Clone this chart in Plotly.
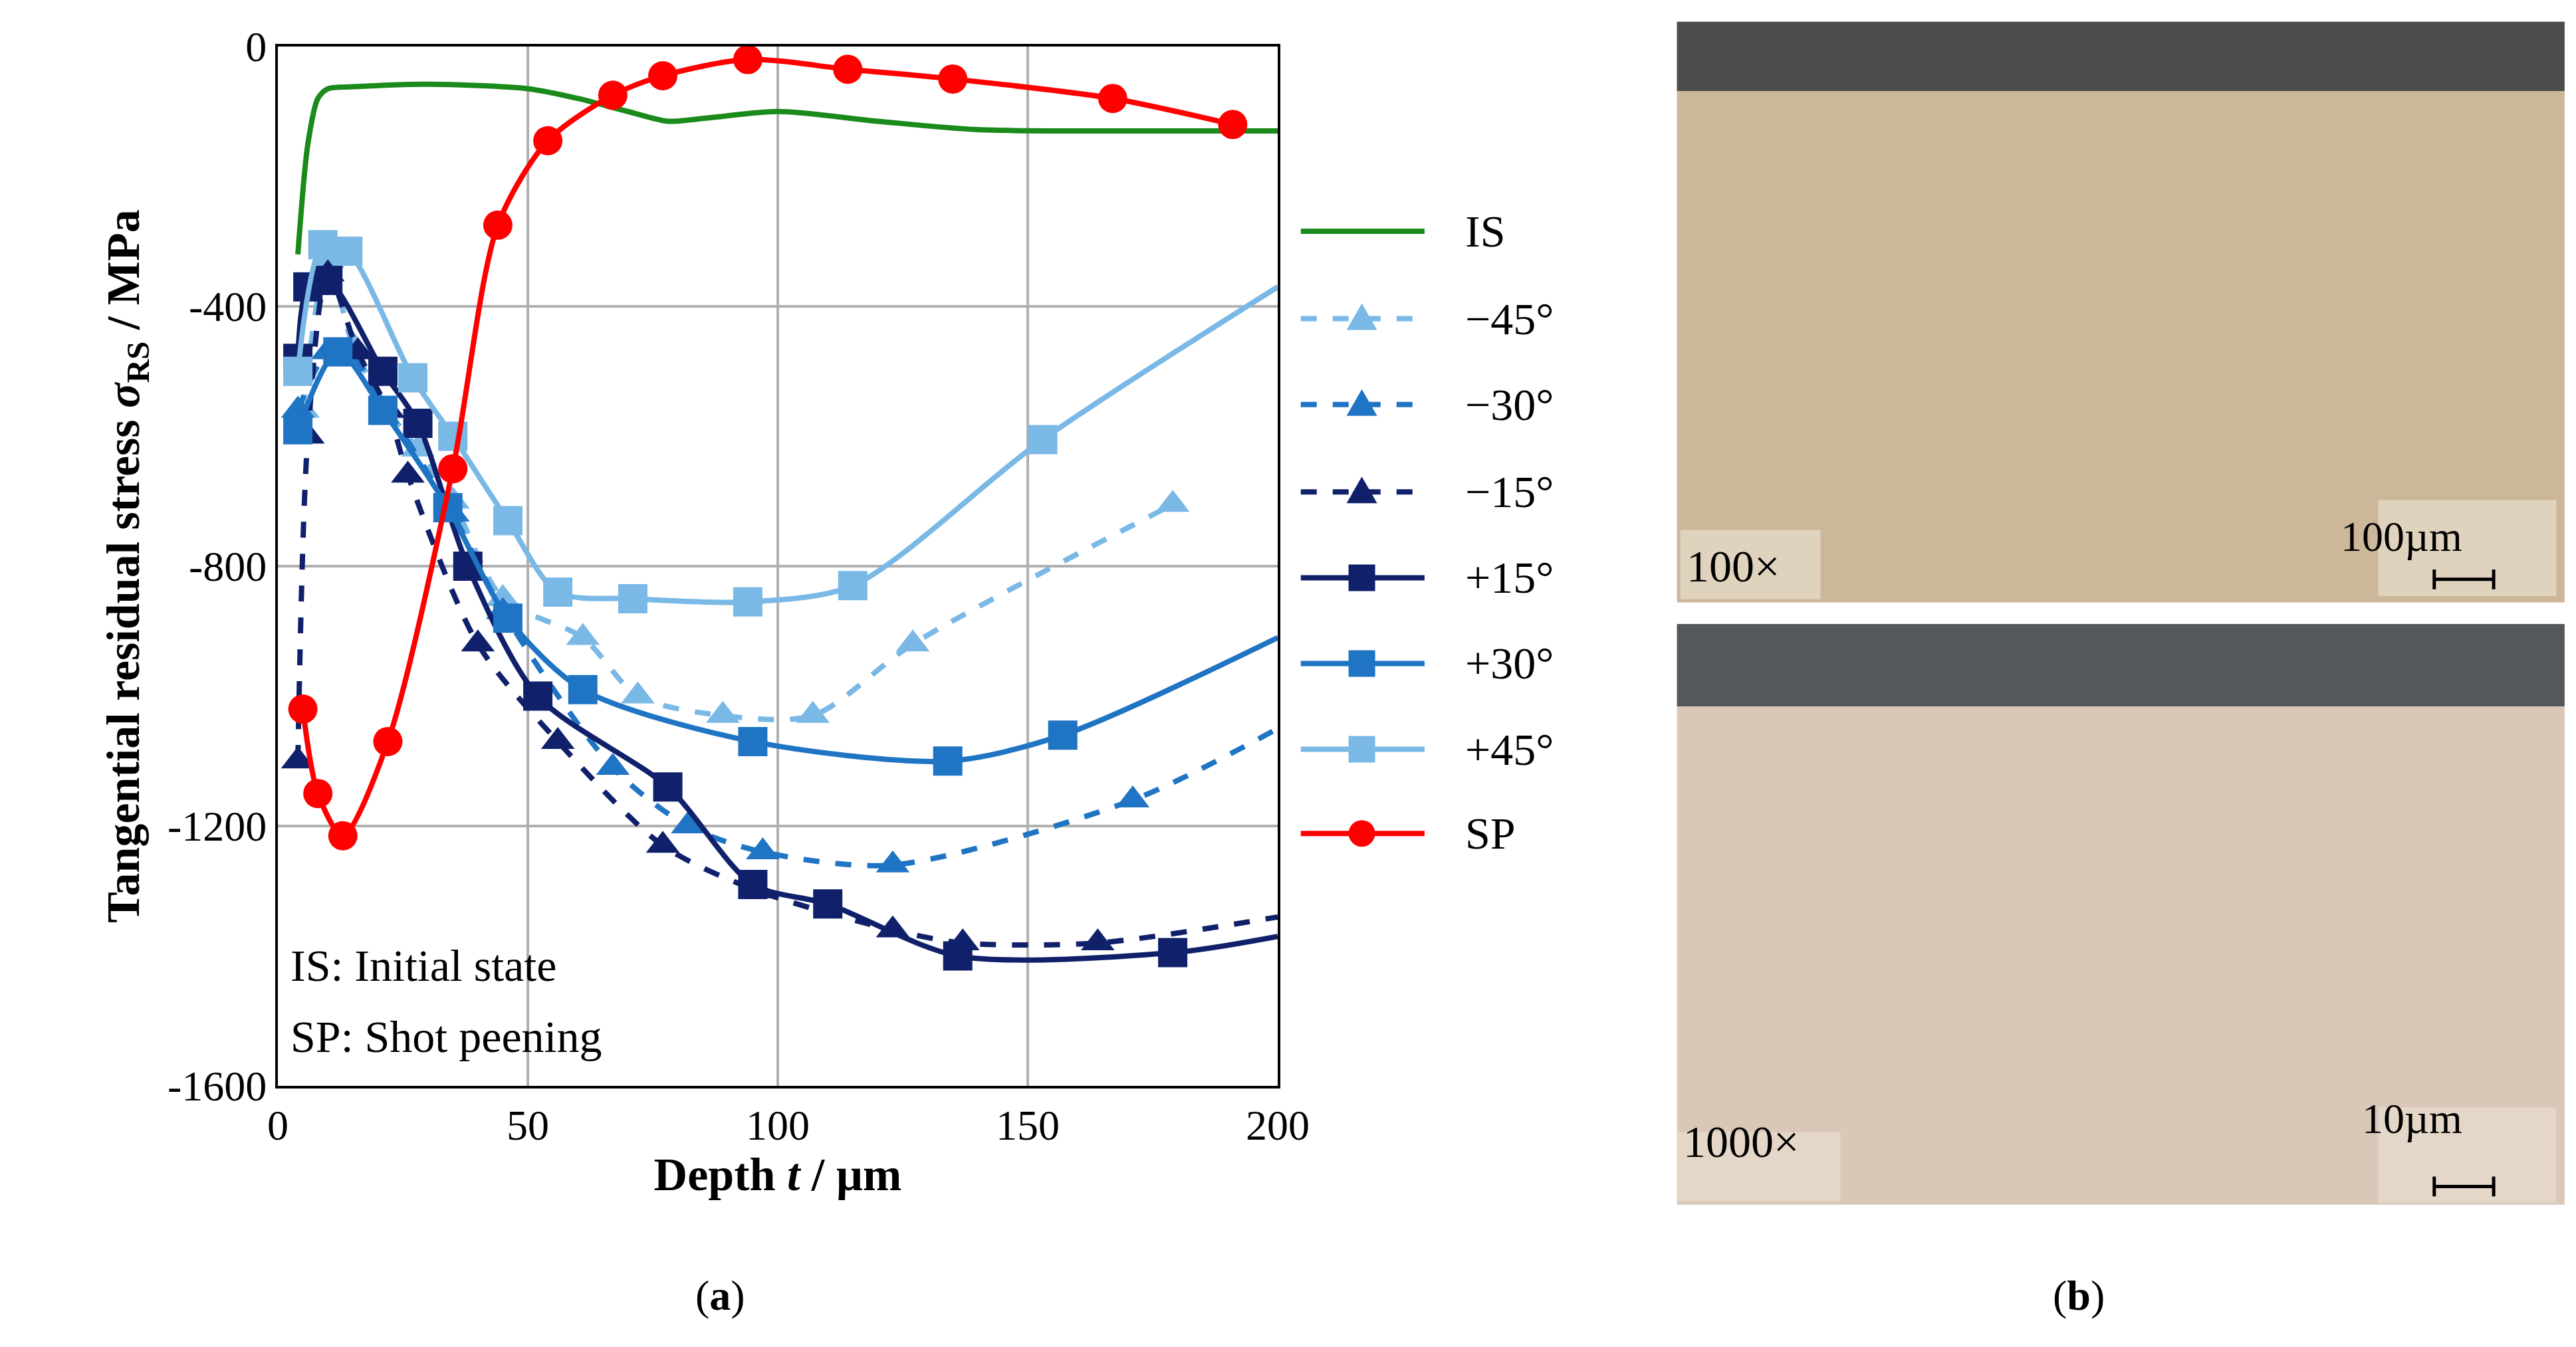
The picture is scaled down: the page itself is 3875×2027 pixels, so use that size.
import plotly.graph_objects as go

W, H = 3875, 2027
S = W / 1561.0
L, R, T, B = 165 * S, 771 * S, 25 * S, 655 * S

is_x = [4, 6, 8, 10, 15, 30, 50, 60, 70, 78, 86, 100, 120, 140, 170, 200]
is_y = [-320, -150, -80, -65, -62, -58, -65, -80, -100, -115, -110, -100, -115, -128, -130, -130]
sp_x = [5, 8, 13, 22, 35, 44, 54, 67, 77, 94, 114, 135, 167, 191]
sp_y = [-1020, -1150, -1215, -1070, -650, -275, -145, -75, -45, -20, -35, -50, -80, -120]
m45_x = [5, 10, 15, 22, 28, 35, 45, 61, 72, 89, 107, 127, 179]
m45_y = [-560, -330, -460, -560, -620, -700, -850, -910, -1000, -1030, -1030, -920, -705]
m30_x = [4, 10, 14, 22, 35, 45, 67, 82, 97, 123, 171, 200]
m30_y = [-560, -470, -470, -560, -720, -870, -1110, -1200, -1240, -1260, -1160, -1050]
m15_x = [4, 6, 10, 16, 22, 26, 40, 56, 77, 96, 123, 137, 164, 200]
m15_y = [-1100, -600, -350, -470, -560, -660, -920, -1070, -1230, -1300, -1360, -1380, -1380, -1340]
p15_x = [4, 6, 10, 21, 28, 38, 52, 78, 95, 110, 136, 179, 200]
p15_y = [-480, -370, -360, -500, -580, -800, -1000, -1140, -1290, -1320, -1400, -1395, -1370]
p30_x = [4, 12, 21, 34, 46, 61, 95, 134, 157, 200]
p30_y = [-590, -470, -560, -710, -880, -990, -1070, -1100, -1060, -910]
p45_x = [4, 9, 14, 27, 35, 46, 56, 71, 94, 115, 153, 200]
p45_y = [-500, -305, -315, -510, -600, -730, -840, -850, -855, -830, -605, -370]

NAVY, MID, LIGHT, GREEN, RED = "#10206a", "#1f74c4", "#7ab8e6", "#1a8a1a", "#ff0000"
fig = go.Figure()

specs = [
    ("IS", is_x, is_y, GREEN, "solid", None, False),
    ("\u221245°", m45_x, m45_y, LIGHT, "dash", "triangle-up", False),
    ("\u221230°", m30_x, m30_y, MID, "dash", "triangle-up", True),
    ("\u221215°", m15_x, m15_y, NAVY, "dash", "triangle-up", True),
    ("+15°", p15_x, p15_y, NAVY, "solid", "square", True),
    ("+30°", p30_x, p30_y, MID, "solid", "square", True),
    ("+45°", p45_x, p45_y, LIGHT, "solid", "square", True),
    ("SP", sp_x, sp_y, RED, "solid", "circle", False),
]
for n, x, y, c, d, s, e in specs:
    sizes = [44] * len(x)
    if e:
        sizes[-1] = 0
    fig.add_trace(go.Scatter(
        x=x, y=y, name=n, showlegend=False,
        mode="lines+markers" if s else "lines",
        line=dict(color=c, width=8, dash=d, shape="spline", smoothing=0.8),
        marker=dict(symbol=s, size=sizes, color=c, opacity=1,
                    line=dict(width=0)) if s else None))

FONT = "Liberation Serif"
PW, PH = R - L, B - T
def px(x):
    return (x * S - L) / PW
def py(y):
    return 1 - (y * S - T) / PH

def shape(**kw):
    fig.add_shape(xref="paper", yref="paper", layer="above", **kw)

leg_y = [137, 190, 242, 295, 347, 399, 451, 502]
r = 20
for (n, x, y, c, d, s, e), ly in zip(specs, leg_y):
    shape(type="line", x0=px(785), x1=px(860), y0=py(ly), y1=py(ly),
          line=dict(color=c, width=8, dash=d))
    cx, cy = px(822), py(ly)
    dx, dy = r / PW, r / PH
    if s == "square":
        shape(type="rect", x0=cx - dx, x1=cx + dx, y0=cy - dy, y1=cy + dy,
              fillcolor=c, line=dict(width=0))
    elif s == "circle":
        shape(type="circle", x0=cx - dx, x1=cx + dx, y0=cy - dy, y1=cy + dy,
              fillcolor=c, line=dict(width=0))
    elif s == "triangle-up":
        path = f"M {cx - dx*1.15} {cy - dy*0.85} L {cx + dx*1.15} {cy - dy*0.85} L {cx} {cy + dy*1.15} Z"
        shape(type="path", path=path, fillcolor=c, line=dict(width=0))
    fig.add_annotation(text=n, x=px(884), y=py(ly), xref="paper", yref="paper",
                       xanchor="left", yanchor="middle", showarrow=False,
                       font=dict(size=68))

fig.update_layout(
    width=W, height=H, paper_bgcolor="white", plot_bgcolor="white",
    margin=dict(l=L, r=W - R, t=T, b=H - B),
    font=dict(family=FONT, size=64, color="black"),
    showlegend=False,
    xaxis=dict(range=[0, 200], tickvals=[0, 50, 100, 150, 200], showgrid=True,
               gridcolor="#b0b0b0", gridwidth=4, showline=True, linecolor="black",
               linewidth=4, mirror=True, ticks="", zeroline=False,
               title=dict(text="<b>Depth <i>t</i> / µm</b>", font=dict(size=70), standoff=10)),
    yaxis=dict(range=[-1600, 0], tickvals=[0, -400, -800, -1200, -1600],
               ticktext=["0", "-400", "-800", "-1200", "-1600"], showgrid=True,
               gridcolor="#b0b0b0", gridwidth=4, showline=True, linecolor="black",
               linewidth=4, mirror=True, ticks="", zeroline=False,
               title=dict(text="<b>Tangential residual stress <i>σ</i><sub>RS</sub> / MPa</b>",
                          font=dict(size=70), standoff=20)),
)

for t, x, y in [("IS: Initial state", 172, 582), ("SP: Shot peening", 172, 625)]:
    fig.add_annotation(text=t, x=px(x), y=py(y), xref="paper", yref="paper",
                       xanchor="left", yanchor="middle", showarrow=False,
                       font=dict(size=68))
fig.add_annotation(text="(<b>a</b>)", x=px(433), y=py(797), xref="paper", yref="paper",
                   showarrow=False, font=dict(size=64))
fig.add_annotation(text="(<b>b</b>)", x=px(1273), y=py(797), xref="paper", yref="paper",
                   showarrow=False, font=dict(size=64))

def rect(x0, y0, x1, y1, color):
    shape(type="rect", x0=px(x0), x1=px(x1), y0=py(y1), y1=py(y0),
          fillcolor=color, line=dict(width=0))

rect(1013, 10, 1551, 362, "#cdb79a")
rect(1013, 10, 1551, 52, "#4a4c4e")
rect(1013, 375, 1551, 727, "#d9c7b8")
rect(1013, 375, 1551, 425, "#55585a")
for t, x, y in [("100×", 1018, 340), ("1000×", 1016, 705)]:
    rect(x - 3, y - 22, x + 82 + (14 if "1000" in t else 0), y + 20, "rgba(232,222,205,0.7)")
    fig.add_annotation(text=t, x=px(x), y=py(y), xref="paper", yref="paper",
                       xanchor="left", showarrow=False, font=dict(size=68))
for t, x, y in [("100µm", 1490, 322), ("10µm", 1490, 690)]:
    rect(x - 52, y - 22, x + 56, y + 36, "rgba(232,222,205,0.7)")
    fig.add_annotation(text=t, x=px(x), y=py(y), xref="paper", yref="paper",
                       showarrow=False, font=dict(size=64))
    shape(type="line", x0=px(x - 18), x1=px(x + 18), y0=py(y + 26), y1=py(y + 26),
          line=dict(color="black", width=5))
    for xx in (x - 18, x + 18):
        shape(type="line", x0=px(xx), x1=px(xx), y0=py(y + 20), y1=py(y + 32),
              line=dict(color="black", width=5))

fig.write_html("out.html")
